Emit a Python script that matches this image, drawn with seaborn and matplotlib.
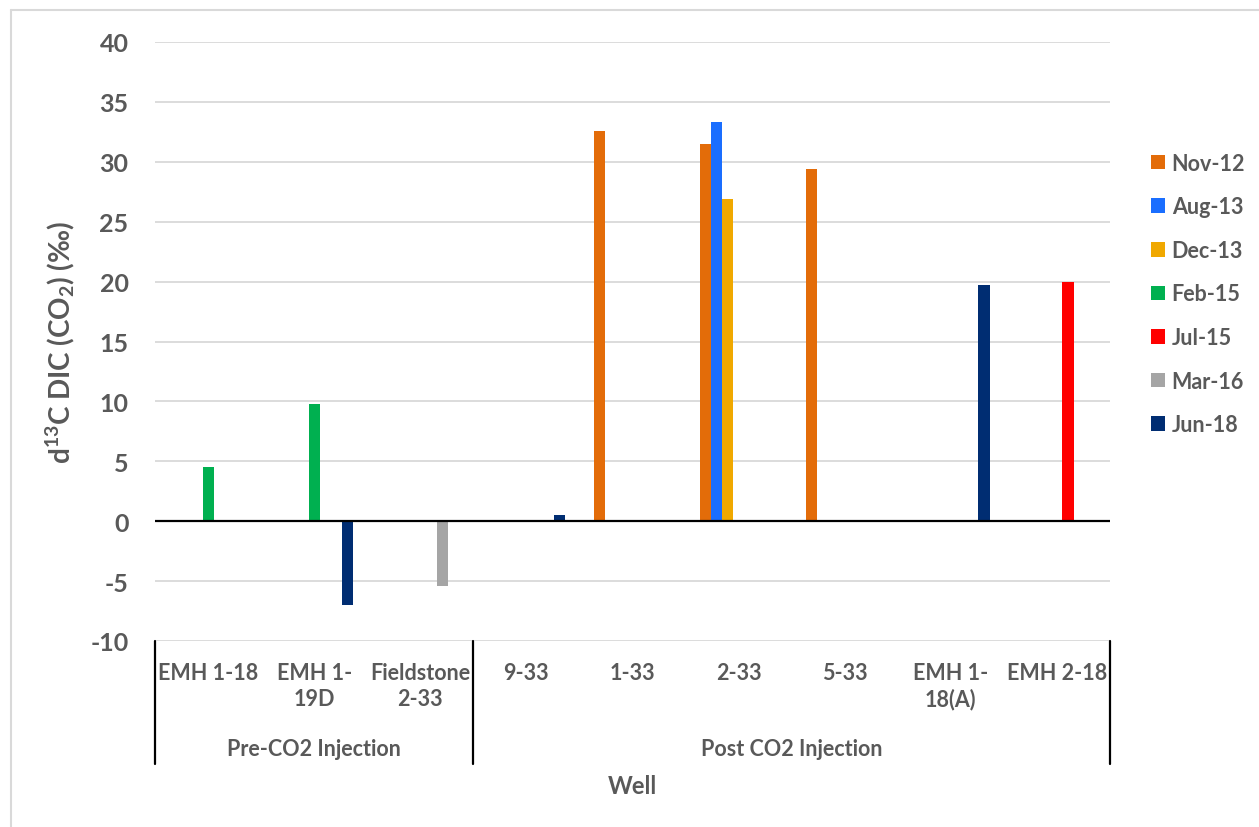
import pandas as pd
import numpy as np
import matplotlib.pyplot as plt
import seaborn as sns
from matplotlib.lines import Line2D
from matplotlib.transforms import blended_transform_factory

sns.set_theme(style="white")
plt.rcParams['font.family'] = ['Lato', 'DejaVu Sans']
plt.rcParams['font.weight'] = 'bold'
plt.rcParams['axes.unicode_minus'] = False
plt.rcParams['mathtext.fontset'] = 'custom'
plt.rcParams['mathtext.rm'] = 'Lato:bold'
plt.rcParams['mathtext.bf'] = 'Lato:bold'
plt.rcParams['mathtext.default'] = 'rm'

# wells (x categories) and sampling dates (hue)
wells = ['EMH 1-18', 'EMH 1-19D', 'Fieldstone 2-33', '9-33', '1-33',
         '2-33', '5-33', 'EMH 1-18(A)', 'EMH 2-18']
well_labels = ['EMH 1-18', 'EMH 1-\n19D', 'Fieldstone\n2-33', '9-33', '1-33',
               '2-33', '5-33', 'EMH 1-\n18(A)', 'EMH 2-18']
dates = ['Nov-12', 'Aug-13', 'Dec-13', 'Feb-15', 'Jul-15', 'Mar-16', 'Jun-18']
colors = ['#E36C09', '#1A6EFF', '#F0A800', '#00B050', '#FF0000', '#A5A5A5', '#002D72']

# measured values (well, date, d13C)
obs_well = ['EMH 1-18', 'EMH 1-19D', 'EMH 1-19D', 'Fieldstone 2-33', '9-33',
            '1-33', '2-33', '2-33', '2-33', '5-33', 'EMH 1-18(A)', 'EMH 2-18']
obs_date = ['Feb-15', 'Feb-15', 'Jun-18', 'Mar-16', 'Jun-18',
            'Nov-12', 'Nov-12', 'Aug-13', 'Dec-13', 'Nov-12', 'Jun-18', 'Jul-15']
obs_val = [4.5, 9.8, -7.0, -5.4, 0.5, 32.6, 31.5, 33.3, 26.9, 29.4, 19.7, 20.0]

groups = ['Pre-CO2 Injection', 'Post CO2 Injection']
group_span = [(-0.5, 2.5), (2.5, 8.5)]

df = pd.DataFrame({'well': obs_well, 'date': obs_date, 'val': obs_val})

txt = '#595959'
fig = plt.figure(figsize=(12.59, 8.28), dpi=100)
ax = fig.add_axes([155/1259, 1-642/828, 955/1259, 599/828])

sns.barplot(data=df, x='well', y='val', hue='date', order=wells, hue_order=dates,
            palette=colors, saturation=1, width=0.73, linewidth=0, ax=ax,
            errorbar=None)

ax.set_ylim(-10, 40)
ax.set_xlim(-0.5, 8.5)
ax.set_yticks(np.arange(-10, 41, 5))
ax.yaxis.grid(True, color='#D9D9D9', lw=1.3)
ax.set_axisbelow(True)
for s in ax.spines.values():
    s.set_visible(False)
ax.axhline(0, color='black', lw=1.6, zorder=3)

ax.set_xticks(range(len(wells)))
ax.set_xticklabels(well_labels, linespacing=1.3)
ax.tick_params(axis='x', length=0, pad=15, labelsize=15.5, labelcolor=txt)
ax.tick_params(axis='y', length=0, pad=19, labelsize=18, labelcolor=txt)
for t in ax.get_xticklabels() + ax.get_yticklabels():
    t.set_fontweight('bold')

# multi-level category axis
tr = blended_transform_factory(ax.transData, ax.transAxes)
for b in [-0.5, 2.5, 8.5]:
    ax.add_line(Line2D([b, b], [0, -0.205], transform=tr, color='black',
                       lw=1.6, clip_on=False))
for g, (a, b) in zip(groups, group_span):
    ax.text((a + b) / 2, -0.18, g, transform=tr, ha='center', va='center',
            fontsize=15.5, fontweight='bold', color=txt)

ax.set_xlabel('Well', fontsize=17, fontweight='bold', color=txt)
ax.xaxis.set_label_coords(0.5, -0.242)
ax.xaxis.label.set_va('center')
ax.set_ylabel(r'd$^{13}$C DIC (CO$_{2}$) (‰)', fontsize=20, fontweight='bold', color=txt)
ax.yaxis.set_label_coords(-0.0995, 0.5)
ax.yaxis.label.set_va('center')

handles, labels = ax.get_legend_handles_labels()
ax.legend(handles, labels, loc='center left', bbox_to_anchor=(1140/1259, 1-295/828),
          bbox_transform=fig.transFigure, frameon=False, borderpad=0,
          handlelength=0.67, handleheight=0.67, handletextpad=0.3,
          labelspacing=1.05, prop={'size': 15.5, 'weight': 'bold'}, labelcolor=txt)

# outer chart border (cropped at right/bottom)
fig.add_artist(Line2D([11/1259, 11/1259], [0, 1-11/828], transform=fig.transFigure,
                      color='#D9D9D9', lw=1.5))
fig.add_artist(Line2D([11/1259, 1], [1-11/828, 1-11/828], transform=fig.transFigure,
                      color='#D9D9D9', lw=1.5))

fig.savefig('out.png', dpi=100)
